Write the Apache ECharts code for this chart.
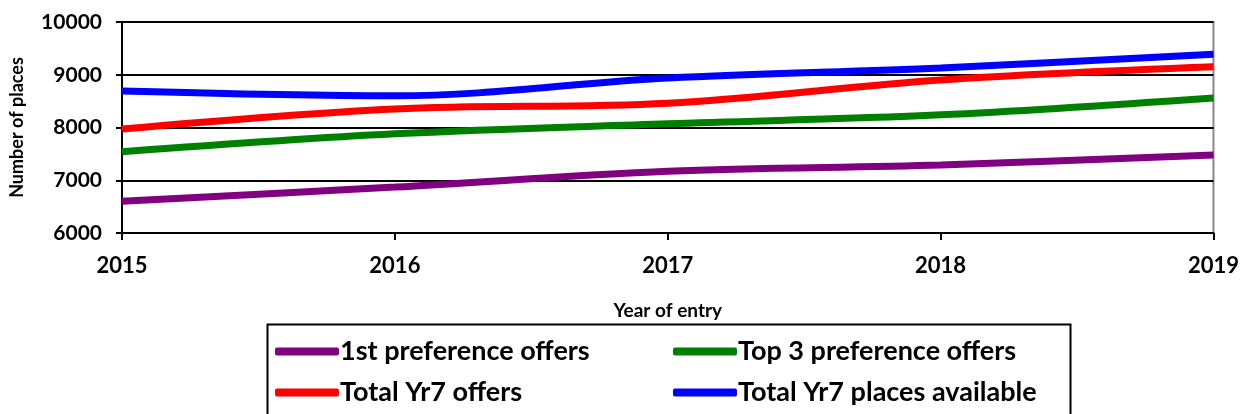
<!DOCTYPE html>
<html>
<head>
<meta charset="UTF-8">
<title>Year 7 places</title>
<script src="https://cdn.jsdelivr.net/npm/echarts@6/dist/echarts.min.js"></script>
<style>
  html, body { margin: 0; padding: 0; background: #fff; }
  #chart { width: 1242px; height: 414px; }
</style>
</head>
<body>
<div id="chart"></div>
<script>
var years = ['2015', '2016', '2017', '2018', '2019'];
var firstPref = [6600, 6870, 7170, 7290, 7480];
var top3Pref = [7540, 7880, 8070, 8240, 8560];
var totalOffers = [7970, 8350, 8460, 8900, 9150];
var totalPlaces = [8690, 8600, 8940, 9130, 9390];

var font = 'Lato';
var chart = echarts.init(document.getElementById('chart'));

function line(name, data, color) {
  return {
    name: name, type: 'line', data: data, smooth: 0.35,
    showSymbol: false, symbol: 'none',
    lineStyle: { width: 7, color: color },
    itemStyle: { color: color }
  };
}

function legendCol(left, names) {
  return {
    orient: 'vertical', left: left, top: 333,
    itemWidth: 64, itemHeight: 8, itemGap: 14,
    icon: 'roundRect',
    textStyle: { fontFamily: font, fontWeight: 'bold', fontSize: 27, color: '#000', padding: [0, 0, 0, -4] },
    data: names
  };
}

chart.setOption({
  animation: false,
  grid: {
    left: 120, right: 26, top: 22, bottom: 181,
    show: true, borderColor: '#888', borderWidth: 2
  },
  xAxis: {
    type: 'category', data: years, boundaryGap: false,
    name: 'Year of entry', nameLocation: 'middle', nameGap: 68,
    nameTextStyle: { fontFamily: font, fontWeight: 'bold', fontSize: 19, color: '#000' },
    axisLine: { lineStyle: { color: '#000', width: 2 } },
    axisTick: { show: true, length: 7, lineStyle: { color: '#000', width: 2 } },
    axisLabel: { fontFamily: font, fontWeight: 'bold', fontSize: 22, color: '#000', margin: 22 },
    splitLine: { show: false }
  },
  yAxis: {
    type: 'value', min: 6000, max: 10000, interval: 1000,
    name: 'Number of places', nameLocation: 'middle', nameGap: 96,
    nameTextStyle: { fontFamily: font, fontWeight: 'bold', fontSize: 18, color: '#000' },
    axisLine: { show: true, lineStyle: { color: '#000', width: 2 } },
    axisTick: { show: true, length: 6, lineStyle: { color: '#000', width: 2 } },
    axisLabel: {
      fontFamily: font, fontWeight: 'bold', fontSize: 21, color: '#000', margin: 20,
      formatter: function (v) { return String(v); }
    },
    splitLine: { show: true, lineStyle: { color: '#000', width: 2 } }
  },
  legend: [
    legendCol(270, ['1st preference offers', 'Total Yr7 offers']),
    legendCol(668, ['Top 3 preference offers', 'Total Yr7 places available'])
  ],
  graphic: [{
    type: 'rect', left: 265, top: 322,
    shape: { width: 803, height: 100 },
    style: { fill: 'none', stroke: '#000', lineWidth: 2 }
  }],
  series: [
    line('1st preference offers', firstPref, '#800080'),
    line('Top 3 preference offers', top3Pref, '#008000'),
    line('Total Yr7 offers', totalOffers, '#ff0000'),
    line('Total Yr7 places available', totalPlaces, '#0000ff')
  ]
});
</script>
</body>
</html>
